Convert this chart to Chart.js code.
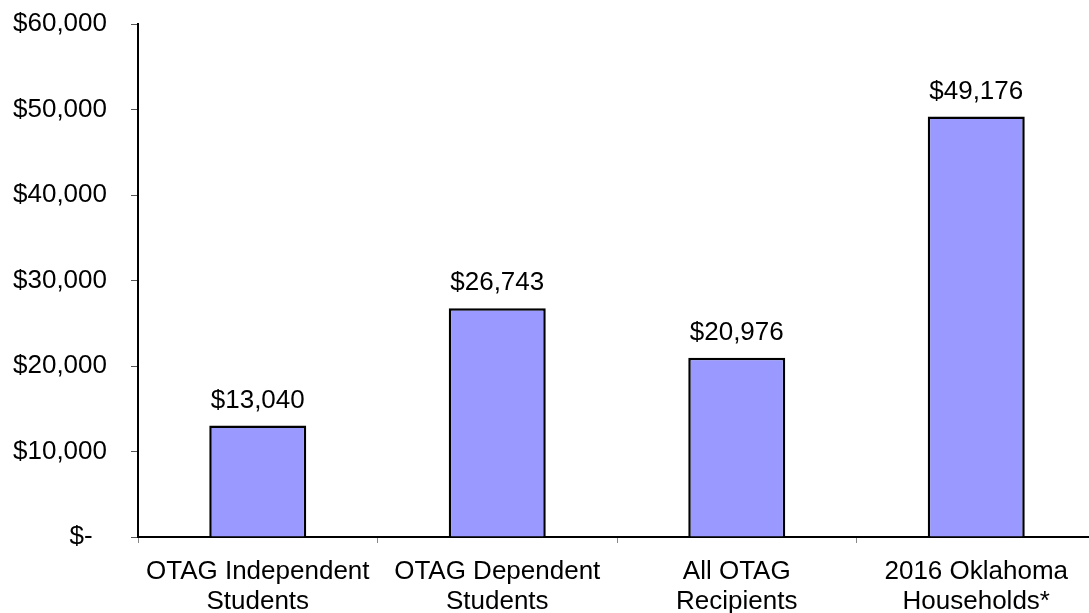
<!DOCTYPE html>
<html>
<head>
<meta charset="utf-8">
<script src="https://cdn.jsdelivr.net/npm/chart.js@4/dist/chart.umd.min.js"></script>
<style>
  html, body { margin: 0; padding: 0; background: #fff; overflow: hidden; }
  #wrap { width: 1096px; height: 613px; }
</style>
</head>
<body>
<div id="wrap"><canvas id="myChart"></canvas></div>
<script>
// dati
const categories = [
    ['OTAG Independent', 'Students'],
    ['OTAG Dependent', 'Students'],
    ['All OTAG', 'Recipients'],
    ['2016 Oklahoma', 'Households*']
];
const incomes = [13040, 26743, 20976, 49176];
const yTicks = [0, 10000, 20000, 30000, 40000, 50000, 60000];

function money(v) {
    if (v === 0) return '$-  ';
    return '$' + v.toLocaleString('en-US');
}

// etichette sopra le barre
const valueLabels = {
    id: 'valueLabels',
    afterDatasetsDraw(chart) {
        const ctx = chart.ctx;
        ctx.save();
        ctx.font = '26px "Liberation Sans", Arial, sans-serif';
        ctx.fillStyle = '#000';
        ctx.textAlign = 'center';
        ctx.textBaseline = 'alphabetic';
        chart.getDatasetMeta(0).data.forEach((bar, i) => {
            ctx.fillText(money(incomes[i]), bar.x, bar.y - 18);
        });
        ctx.restore();
    }
};

const ctx = document.getElementById('myChart').getContext('2d');
const myChart = new Chart(ctx, {
    type: 'bar',
    data: {
        labels: categories,
        datasets: [{
            data: incomes,
            backgroundColor: '#9999FF',
            borderColor: '#000',
            borderWidth: 2.5,
            borderSkipped: 'bottom',
            categoryPercentage: 1,
            barPercentage: 0.405
        }]
    },
    options: {
        responsive: true,
        maintainAspectRatio: false,
        animation: false,
        layout: { padding: { top: 24, left: 0, right: 0, bottom: 0 } },
        plugins: {
            legend: { display: false },
            tooltip: { enabled: false }
        },
        scales: {
            x: {
                grid: {
                    offset: true,
                    drawOnChartArea: false,
                    drawTicks: true,
                    tickLength: 6,
                    color: '#888'
                },
                border: { color: '#000', width: 2 },
                ticks: {
                    color: '#000',
                    padding: 14,
                    maxRotation: 0,
                    autoSkip: false,
                    font: { family: '"Liberation Sans", Arial, sans-serif', size: 26, lineHeight: 1.15 }
                },
                afterFit(scale) {
                    scale.height = 76;
                    scale.paddingLeft = 0;
                    scale.paddingRight = 0;
                }
            },
            y: {
                min: 0,
                max: 60000,
                afterBuildTicks(scale) { scale.ticks = yTicks.map(v => ({ value: v })); },
                grid: {
                    drawOnChartArea: false,
                    drawTicks: true,
                    tickLength: 7,
                    color: '#555'
                },
                border: { color: '#000', width: 2 },
                ticks: {
                    color: '#000',
                    padding: 24,
                    callback: v => money(v),
                    font: { family: '"Liberation Sans", Arial, sans-serif', size: 26 }
                },
                afterFit(scale) {
                    scale.width = 138;
                    scale.paddingTop = 0;
                    scale.paddingBottom = 0;
                }
            }
        }
    },
    plugins: [valueLabels]
});
</script>
</body>
</html>
